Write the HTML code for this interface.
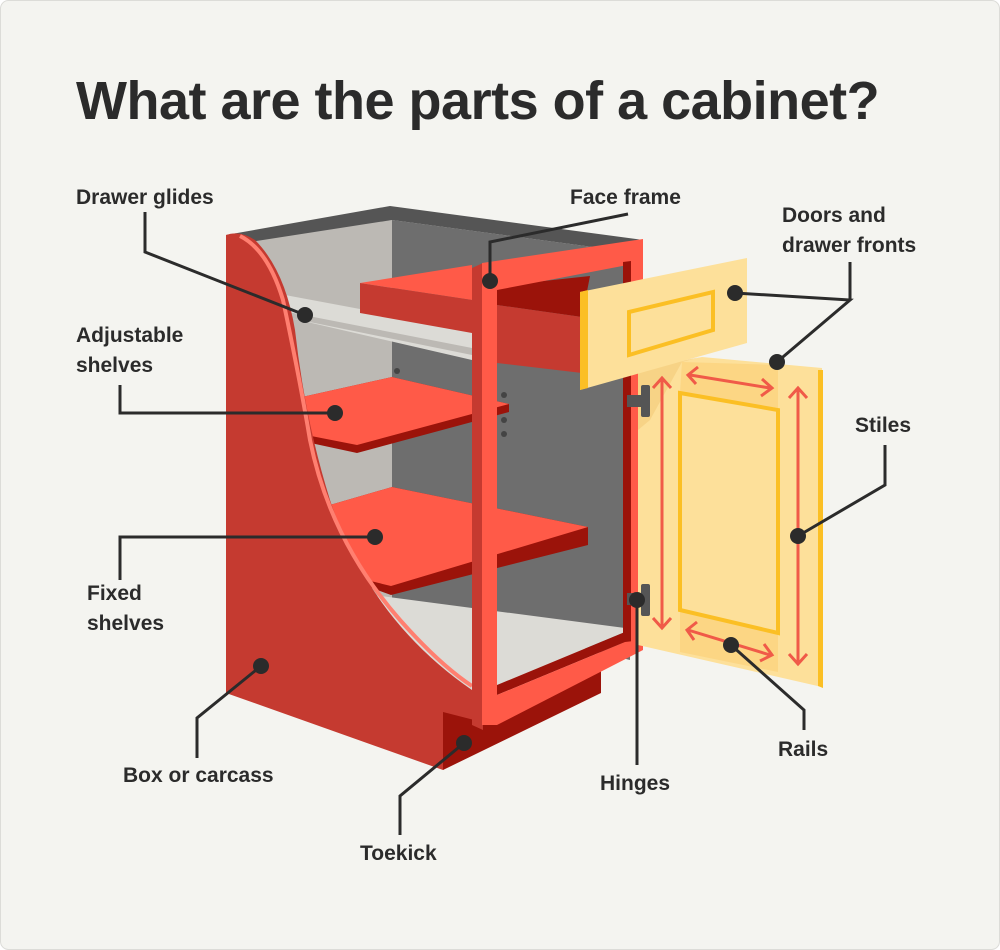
<!DOCTYPE html>
<html><head><meta charset="utf-8"><style>
html,body{margin:0;padding:0;background:#fff}
svg{display:block}
text{font-family:"Liberation Sans",sans-serif;font-weight:bold;fill:#2b2b2b}
</style></head><body>
<svg width="1000" height="950" viewBox="0 0 1000 950" xmlns="http://www.w3.org/2000/svg">
<rect x="0.5" y="0.5" width="999" height="949" rx="8" fill="#f4f4f0" stroke="#dcdcd8"/>
<text x="76" y="119" font-size="54" letter-spacing="-0.5">What are the parts of a cabinet?</text>

<polygon points="235,238 392,220 392,640 300,640" fill="#bcb9b4"/>
<polygon points="392,220 630,252 630,660 392,600" fill="#6e6e6e"/>
<polygon points="226,235 390,206 643,240 630,252 392,220 250,242" fill="#555555"/>
<polygon points="300,560 350,592 625,628 625,632 497,685 470,690 400,650" fill="#dcdbd6"/>
<polygon points="497,685 625,632 625,642 497,695" fill="#9b130a"/>
<polygon points="285,295 472,330 472,360 290,318" fill="#dcdbd6"/>
<polygon points="288,312 472,348 472,355 290,318" fill="#bcb9b4"/>
<polygon points="302,397 392,377 509,404 509,412 357,453 306,442" fill="#9b130a"/>
<polygon points="302,397 392,377 509,404 357,445 306,435" fill="#ff5a48"/>
<polygon points="323,507 392,487 588,527 588,545 391,595 350,580" fill="#9b130a"/>
<polygon points="323,507 392,487 588,527 391,586 354,577" fill="#ff5a48"/>
<circle cx="397" cy="371" r="3" fill="#444"/>
<circle cx="504" cy="395" r="3" fill="#444"/>
<circle cx="504" cy="420" r="3" fill="#444"/>
<circle cx="504" cy="434" r="3" fill="#444"/>
<path d="M226,235 Q240,230 255,240 Q285,270 295,330 Q305,420 330,500 Q370,620 472,690 L482,712 L482,735 L443,770 L226,693 Z" fill="#c53a30"/>
<path d="M240,236 Q268,250 283,300 Q300,380 310,440 Q330,540 400,620 Q440,665 472,686" fill="none" stroke="#ff7f70" stroke-width="4"/>
<polygon points="443,712 482,722 601,663 601,693 443,770" fill="#9b130a"/>
<polygon points="360,283 472,265 472,300" fill="#ff5a48"/>
<polygon points="360,283 472,300 472,333 360,313" fill="#c53a30"/>
<polygon points="497,286 590,276 582,317 497,305" fill="#9b130a"/>
<polygon points="497,305 582,317 582,373 497,363" fill="#c53a30"/>
<polygon points="472,268 483,263 483,730 472,725" fill="#c53a30"/>
<polygon points="482,263 643,239 643,262 497,290 497,725 482,725" fill="#ff5a48"/>
<polygon points="623,262 643,258 643,648 623,652" fill="#ff5a48"/>
<polygon points="623,262 631,261 631,648 623,650" fill="#9b130a"/>
<polygon points="497,695 625,642 643,640 643,650 497,725" fill="#ff5a48"/>
<polygon points="638,370 702,357 822,368 822,687 638,645" fill="#fde09a"/>
<polygon points="682,362 778,365 778,408 680,393" fill="#fbd27a" opacity="0.7"/>
<polygon points="680,610 778,633 778,672 680,652" fill="#fbd27a" opacity="0.7"/>
<polygon points="638,370 700,357 682,362 650,420 638,430" fill="#f3c97a" opacity="0.6"/>
<polygon points="818,370 823,370 823,688 818,686" fill="#fbbf24"/>
<polygon points="680,393 778,410 778,633 680,610" fill="none" stroke="#fbbf24" stroke-width="4"/>
<g stroke="#f05a48" stroke-width="3" fill="none">
<line x1="662" y1="378" x2="662" y2="628"/><polyline points="653,388 662,378 671,388"/><polyline points="653,618 662,628 671,618"/>
<line x1="798" y1="388" x2="798" y2="664"/><polyline points="789,398 798,388 807,398"/><polyline points="789,654 798,664 807,654"/>
<line x1="690" y1="375" x2="770" y2="388"/><polyline points="698,367 688,375 696,384"/><polyline points="762,379 772,388 761,396"/>
<line x1="688" y1="630" x2="770" y2="655"/><polyline points="697,622 687,630 694,640"/><polyline points="764,644 772,655 760,661"/>
</g>
<g fill="#555">
<rect x="627" y="395" width="16" height="12"/><rect x="641" y="385" width="9" height="32" rx="2"/>
<rect x="627" y="593" width="16" height="12"/><rect x="641" y="584" width="9" height="32" rx="2"/>
</g>
<polygon points="580,292 747,258 747,343 580,390" fill="#fde09a"/>
<polygon points="580,292 588,290 588,388 580,390" fill="#fbbf24"/>
<polygon points="629,312 713,292 713,330 629,355" fill="none" stroke="#fbbf24" stroke-width="4"/>

<g stroke="#2b2b2b" stroke-width="3" fill="none">
<polyline points="145,212 145,252 305,315"/>
<polyline points="628,214 490,242 490,280"/>
<polyline points="735,293 850,300 777,362"/>
<line x1="850" y1="262" x2="850" y2="300"/>
<polyline points="120,385 120,413 335,413"/>
<polyline points="885,445 885,485 798,536"/>
<polyline points="120,580 120,537 375,537"/>
<polyline points="197,758 197,718 261,666"/>
<polyline points="400,835 400,796 464,743"/>
<polyline points="637,765 637,600"/>
<polyline points="804,730 804,710 731,645"/>
</g>
<g fill="#2b2b2b">
<circle cx="305" cy="315" r="8"/><circle cx="490" cy="281" r="8"/><circle cx="735" cy="293" r="8"/>
<circle cx="777" cy="362" r="8"/><circle cx="335" cy="413" r="8"/><circle cx="798" cy="536" r="8"/>
<circle cx="375" cy="537" r="8"/><circle cx="261" cy="666" r="8"/><circle cx="464" cy="743" r="8"/>
<circle cx="637" cy="600" r="8"/><circle cx="731" cy="645" r="8"/>
</g>
<g font-size="21">
<text x="76" y="204">Drawer glides</text>
<text x="570" y="204">Face frame</text>
<text x="782" y="222">Doors and</text>
<text x="782" y="252">drawer fronts</text>
<text x="76" y="342">Adjustable</text>
<text x="76" y="372">shelves</text>
<text x="855" y="432">Stiles</text>
<text x="87" y="600">Fixed</text>
<text x="87" y="630">shelves</text>
<text x="123" y="782">Box or carcass</text>
<text x="360" y="860">Toekick</text>
<text x="600" y="790">Hinges</text>
<text x="778" y="756">Rails</text>
</g>
</svg>
</body></html>
